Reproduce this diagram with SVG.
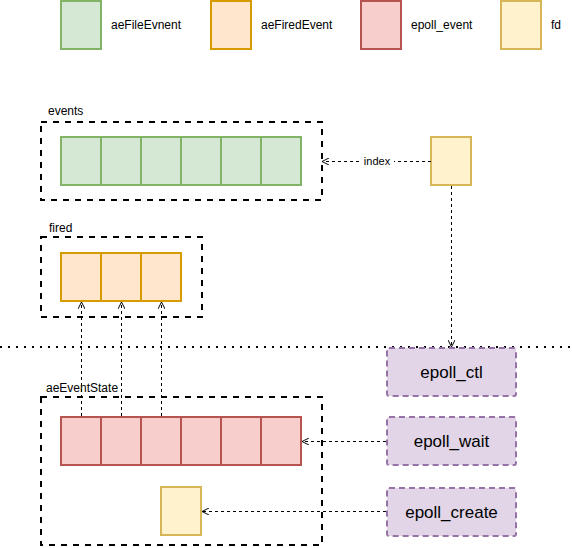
<svg xmlns="http://www.w3.org/2000/svg" width="572" height="548" viewBox="0 0 572 548">
<style>
text{font-family:"Liberation Sans",Arial,sans-serif;fill:#000}
.lbl{font-size:12px}
.fn{font-size:17px;text-anchor:middle;dominant-baseline:central}
.g{fill:#d5e8d4;stroke:#82b366;stroke-width:2}
.o{fill:#ffe6cc;stroke:#d79b00;stroke-width:2}
.r{fill:#f8cecc;stroke:#b85450;stroke-width:2}
.y{fill:#fff2cc;stroke:#d6b656;stroke-width:2}
.p{fill:#e1d5e7;stroke:#9673a6;stroke-width:2;stroke-dasharray:6 4}
.grp{fill:none;stroke:#000;stroke-width:2;stroke-dasharray:6 6}
.e{fill:none;stroke:#000;stroke-width:1;stroke-dasharray:3 3}
</style>
<defs>
<marker id="a" viewBox="0 0 10 10" refX="10" refY="5" markerWidth="7" markerHeight="7" markerUnits="userSpaceOnUse" orient="auto">
<path d="M0,0 L10,5 L0,10" fill="none" stroke="#000" stroke-width="1.4"/>
</marker>
</defs>
<g id="legend">
<rect class="g" x="61" y="1" width="40" height="48"/><text class="lbl" x="111" y="29">aeFileEvnent</text>
<rect class="o" x="211" y="1" width="40" height="48"/><text class="lbl" x="261" y="29">aeFiredEvent</text>
<rect class="r" x="361" y="1" width="40" height="48"/><text class="lbl" x="411" y="29">epoll_event</text>
<rect class="y" x="501" y="1" width="40" height="48"/><text class="lbl" x="551" y="29">fd</text>
</g>
<g id="events">
<rect class="grp" x="41" y="122" width="281" height="78"/>
<text class="lbl" x="48" y="115">events</text>
<rect class="g" x="61" y="137" width="40" height="48"/>
<rect class="g" x="101" y="137" width="40" height="48"/>
<rect class="g" x="141" y="137" width="40" height="48"/>
<rect class="g" x="181" y="137" width="40" height="48"/>
<rect class="g" x="221" y="137" width="40" height="48"/>
<rect class="g" x="261" y="137" width="40" height="48"/>
</g>
<g id="fired">
<rect class="grp" x="41" y="237" width="161" height="80"/>
<text class="lbl" x="49" y="232">fired</text>
<rect class="o" x="61" y="253" width="40" height="48"/>
<rect class="o" x="101" y="253" width="40" height="48"/>
<rect class="o" x="141" y="253" width="40" height="48"/>
</g>
<g id="aeEventState">
<rect class="grp" x="41" y="397" width="281" height="148"/>
<text class="lbl" x="46" y="392">aeEventState</text>
<rect class="r" x="61" y="417" width="40" height="48"/>
<rect class="r" x="101" y="417" width="40" height="48"/>
<rect class="r" x="141" y="417" width="40" height="48"/>
<rect class="r" x="181" y="417" width="40" height="48"/>
<rect class="r" x="221" y="417" width="40" height="48"/>
<rect class="r" x="261" y="417" width="40" height="48"/>
<rect class="y" x="161" y="487" width="40" height="48"/>
</g>
<g id="fd">
<rect class="y" x="431" y="137" width="40" height="48"/>
</g>
<line id="separator" x1="0" y1="347" x2="572" y2="347" stroke="#000" stroke-width="2" stroke-dasharray="2 6"/>
<g id="epoll_ctl"><rect class="p" x="387" y="348" width="129" height="48" rx="2"/><text class="fn" x="451.5" y="372">epoll_ctl</text></g>
<g id="epoll_wait"><rect class="p" x="387" y="417" width="129" height="48" rx="2"/><text class="fn" x="451.5" y="441">epoll_wait</text></g>
<g id="epoll_create"><rect class="p" x="387" y="488" width="129" height="48" rx="2"/><text class="fn" x="451.5" y="512">epoll_create</text></g>
<g id="connectors">
<line class="e" x1="431" y1="161.5" x2="322" y2="161.5" marker-end="url(#a)"/>
<rect x="360" y="153" width="34" height="16" fill="#fff"/>
<text x="377" y="165" font-size="11" text-anchor="middle">index</text>
<line class="e" x1="451.5" y1="186" x2="451.5" y2="347" marker-end="url(#a)"/>
<line class="e" x1="81.5" y1="416" x2="81.5" y2="302" marker-end="url(#a)"/>
<line class="e" x1="121.5" y1="416" x2="121.5" y2="302" marker-end="url(#a)"/>
<line class="e" x1="161.5" y1="416" x2="161.5" y2="302" marker-end="url(#a)"/>
<line class="e" x1="386" y1="441.5" x2="302" y2="441.5" marker-end="url(#a)"/>
<line class="e" x1="386" y1="511.5" x2="202" y2="511.5" marker-end="url(#a)"/>
</g>
</svg>
